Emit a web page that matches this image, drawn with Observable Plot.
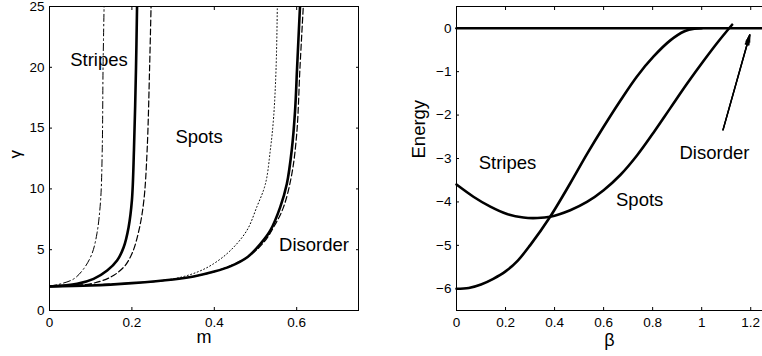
<!DOCTYPE html>
<html>
<head>
<meta charset="utf-8">
<script src="https://cdn.jsdelivr.net/npm/d3@7"></script>
<script src="https://cdn.jsdelivr.net/npm/@observablehq/plot@0.6"></script>
<style>
  html, body { margin: 0; padding: 0; background: #fff; }
  #wrap { display: flex; width: 762px; height: 356px; overflow: hidden; }
  #wrap svg { display: block; }
</style>
</head>
<body>
<div id="wrap"></div>
<script>
// ---------- Left panel: phase boundaries in (m, gamma) ----------
const leftXTicks = [0, 0.2, 0.4, 0.6];
const leftYTicks = [0, 5, 10, 15, 20, 25];
const leftXDomain = [0, 0.75];
const leftYDomain = [0, 25];

// [m, gamma]
const dashDotCurve = [[0,2.0],[0.027,2.19],[0.059,2.6],[0.083,3.43],[0.103,4.66],[0.115,6.3],[0.124,9.05],[0.128,13.2],[0.130,20],[0.1325,25]];
const solidCurve1  = [[0,1.97],[0.067,2.19],[0.107,2.6],[0.14,3.29],[0.164,4.11],[0.18,5.2],[0.192,6.85],[0.2,9.05],[0.205,13.2],[0.21,20],[0.2125,25]];
const dashedCurve1 = [[0,2.0],[0.05,2.05],[0.099,2.19],[0.148,2.74],[0.18,3.56],[0.2,4.66],[0.217,6.58],[0.229,9.05],[0.237,13.2],[0.243,20],[0.2465,25]];
const solidCurve2  = [[0,1.97],[0.1,2.05],[0.2,2.25],[0.3,2.55],[0.35,2.8],[0.4,3.2],[0.44,3.65],[0.48,4.38],[0.512,5.48],[0.536,6.58],[0.56,8.5],[0.576,10.4],[0.588,13.2],[0.596,16.4],[0.601,20],[0.608,25]];
const dottedCurve  = [[0.2,2.25],[0.3,2.6],[0.358,3.15],[0.398,3.84],[0.439,4.93],[0.479,6.58],[0.503,8.5],[0.524,10.4],[0.536,13.2],[0.544,15.9],[0.55,20],[0.553,25]];
const dashedCurve2 = [[0,2.0],[0.2,2.25],[0.3,2.55],[0.4,3.2],[0.48,4.38],[0.52,5.6],[0.544,6.85],[0.568,8.5],[0.588,11.2],[0.6,14.5],[0.608,20],[0.616,25]];

const leftLabels = [
  {x: 0.12, y: 20.6, text: "Stripes"},
  {x: 0.363, y: 14.3, text: "Spots"},
  {x: 0.642, y: 5.35, text: "Disorder"}
];

// ---------- Right panel: energy vs beta ----------
const rightXTicks = [0, 0.2, 0.4, 0.6, 0.8, 1, 1.2];
const rightYTicks = [-6, -5, -4, -3, -2, -1, 0];
const rightXDomain = [0, 1.248];
const rightYDomain = [-6.5, 0.5];

const disorderLine = [[0,0],[1.248,0]];
const spotsEnergy  = [[0,-3.6],[0.069,-3.88],[0.138,-4.11],[0.206,-4.28],[0.273,-4.36],[0.33,-4.37],[0.382,-4.34],[0.464,-4.19],[0.532,-4.0],[0.6,-3.73],[0.668,-3.38],[0.736,-2.93],[0.804,-2.4],[0.872,-1.84],[0.94,-1.28],[1.008,-0.75],[1.063,-0.34],[1.124,0.08]];
const stripesEnergy = [[0,-6],[0.05,-5.98],[0.1,-5.9],[0.15,-5.77],[0.2,-5.6],[0.25,-5.35],[0.3,-5.0],[0.382,-4.34],[0.464,-3.57],[0.532,-2.9],[0.6,-2.27],[0.668,-1.67],[0.736,-1.11],[0.804,-0.65],[0.872,-0.28],[0.93,-0.07],[0.97,-0.01],[1.0,0]];

const rightLabels = [
  {x: 0.208, y: -3.11, text: "Stripes"},
  {x: 0.747, y: -3.96, text: "Spots"},
  {x: 1.052, y: -2.87, text: "Disorder"}
];
const disorderArrow = [{x1: 1.087, y1: -2.34, x2: 1.196, y2: -0.155}];

// ---------- helpers ----------
const FONT = "'Liberation Sans', Arial, Helvetica, sans-serif";
const TICK_FS = 13.5;
const fmt = d => d < 0 ? "\u2212" + (-d) : String(d);
const px = d => d[0], py = d => d[1];

function tickMarks(xTicks, yTicks, withRight) {
  const marks = [
    Plot.axisX({anchor: "bottom", ticks: xTicks, tickSize: 0, tickPadding: 7, tickFormat: fmt, label: null, fontSize: TICK_FS}),
    Plot.axisX({anchor: "bottom", ticks: xTicks, tickSize: 3, dy: -3, tickFormat: () => "", label: null}),
    Plot.axisX({anchor: "top", ticks: xTicks, tickSize: 3, dy: 3, tickFormat: () => "", label: null}),
    Plot.axisY({anchor: "left", ticks: yTicks, tickSize: 0, tickPadding: 5, tickFormat: fmt, label: null, fontSize: TICK_FS}),
    Plot.axisY({anchor: "left", ticks: yTicks, tickSize: 3, dx: 3, tickFormat: () => "", label: null})
  ];
  if (withRight) marks.push(Plot.axisY({anchor: "right", ticks: yTicks, tickSize: 3, dx: -3, tickFormat: () => "", label: null}));
  return marks;
}

const styleObj = {fontFamily: FONT, color: "black", background: "white"};

const left = Plot.plot({
  width: 381, height: 356,
  marginLeft: 49, marginRight: 23, marginTop: 6, marginBottom: 46,
  x: {domain: leftXDomain},
  y: {domain: leftYDomain},
  style: styleObj,
  marks: [
    Plot.line(dashDotCurve, {x: px, y: py, stroke: "black", strokeWidth: 1, strokeDasharray: "7,3,1.5,3", curve: "catmull-rom", clip: true}),
    Plot.line(dashedCurve1, {x: px, y: py, stroke: "black", strokeWidth: 1.2, strokeDasharray: "6,3", curve: "catmull-rom", clip: true}),
    Plot.line(dottedCurve, {x: px, y: py, stroke: "black", strokeWidth: 1, strokeDasharray: "1,2.5", curve: "catmull-rom", clip: true}),
    Plot.line(dashedCurve2, {x: px, y: py, stroke: "black", strokeWidth: 1.2, strokeDasharray: "6,3", curve: "catmull-rom", clip: true}),
    Plot.line(solidCurve1, {x: px, y: py, stroke: "black", strokeWidth: 2.6, curve: "catmull-rom", clip: true}),
    Plot.line(solidCurve2, {x: px, y: py, stroke: "black", strokeWidth: 2.6, curve: "catmull-rom", clip: true}),
    Plot.text(leftLabels, {x: "x", y: "y", text: "text", fontSize: 18.5, fill: "black"}),
    Plot.frame({stroke: "black", strokeWidth: 1}),
    ...tickMarks(leftXTicks, leftYTicks, true),
    Plot.text(["m"], {text: d => d, frameAnchor: "bottom", dy: 32, fontSize: 18, fill: "black"}),
    Plot.text(["\u03b3"], {text: d => d, frameAnchor: "left", dx: -34, rotate: -90, fontSize: 17, fill: "black"})
  ]
});

const right = Plot.plot({
  width: 381, height: 356,
  marginLeft: 75, marginRight: 0, marginTop: 6, marginBottom: 46,
  x: {domain: rightXDomain},
  y: {domain: rightYDomain},
  style: styleObj,
  marks: [
    Plot.line(disorderLine, {x: px, y: py, stroke: "black", strokeWidth: 2.6}),
    Plot.line(spotsEnergy, {x: px, y: py, stroke: "black", strokeWidth: 2.6, curve: "catmull-rom"}),
    Plot.line(stripesEnergy, {x: px, y: py, stroke: "black", strokeWidth: 2.6, curve: "catmull-rom"}),
    Plot.text(rightLabels, {x: "x", y: "y", text: "text", fontSize: 18.5, fill: "black"}),
    Plot.arrow(disorderArrow, {x1: "x1", y1: "y1", x2: "x2", y2: "y2", stroke: "black", strokeWidth: 1, headLength: 11, headAngle: 32}),
    Plot.arrow(disorderArrow, {x1: "x1", y1: "y1", x2: "x2", y2: "y2", stroke: "black", strokeWidth: 1.5, headLength: 10, headAngle: 20}),
    Plot.arrow(disorderArrow, {x1: "x1", y1: "y1", x2: "x2", y2: "y2", stroke: "black", strokeWidth: 1.5, headLength: 10, headAngle: 8}),
    Plot.ruleY([rightYDomain[0], rightYDomain[1]], {stroke: "black", strokeWidth: 1}),
    Plot.ruleX([rightXDomain[0]], {stroke: "black", strokeWidth: 1}),
    ...tickMarks(rightXTicks, rightYTicks, false),
    Plot.text(["\u03b2"], {text: d => d, frameAnchor: "bottom", dy: 35, fontSize: 18, fill: "black"}),
    Plot.text(["Energy"], {text: d => d, frameAnchor: "left", dx: -37, rotate: -90, fontSize: 18.5, fill: "black"})
  ]
});

document.getElementById("wrap").append(left, right);
</script>
</body>
</html>
